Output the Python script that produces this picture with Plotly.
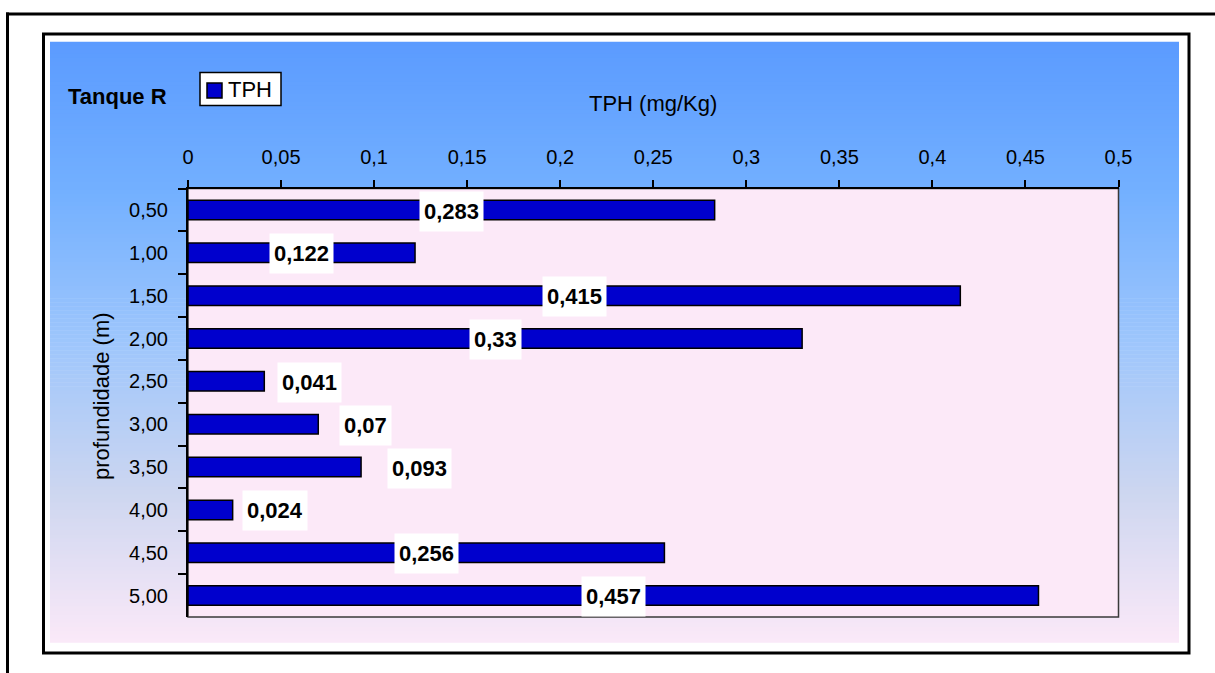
import plotly.graph_objects as go

# Depth categories (m) and TPH concentration (mg/Kg)
profundidade = ["0,50", "1,00", "1,50", "2,00", "2,50", "3,00", "3,50", "4,00", "4,50", "5,00"]
tph = [0.283, 0.122, 0.415, 0.330, 0.041, 0.070, 0.093, 0.024, 0.256, 0.457]
value_labels = ["0,283", "0,122", "0,415", "0,33", "0,041", "0,07", "0,093", "0,024", "0,256", "0,457"]

x_ticks = [0, 0.05, 0.1, 0.15, 0.2, 0.25, 0.3, 0.35, 0.4, 0.45, 0.5]
x_ticktext = ["0", "0,05", "0,1", "0,15", "0,2", "0,25", "0,3", "0,35", "0,4", "0,45", "0,5"]

# Gap (px) between bar end and label for short bars whose label sits outside
outside_gap = {"2,50": 13, "3,00": 21, "3,50": 26, "4,00": 9}

W, H = 1215, 673
FONT = "Liberation Sans, Arial, sans-serif"


def px(x):
    return x / W


def py(y):
    return 1 - y / H


# plot area in pixels
PL, PR, PT, PB = 188, 1118.5, 188.5, 617

fig = go.Figure()
fig.add_trace(go.Bar(
    y=profundidade, x=tph, orientation="h", name="TPH",
    width=0.455,
    marker=dict(color="#0000CD", line=dict(color="#000000", width=1.5)),
    showlegend=False,
))

shapes = []
# outer frame (left and top edges)
shapes.append(dict(type="line", xref="paper", yref="paper", x0=px(7.5), x1=px(7.5),
                   y0=py(12.5), y1=0, line=dict(color="black", width=3)))
shapes.append(dict(type="line", xref="paper", yref="paper", x0=px(6), x1=1,
                   y0=py(14), y1=py(14), line=dict(color="black", width=3)))
# chart box
shapes.append(dict(type="rect", xref="paper", yref="paper", x0=px(43.5), x1=px(1189),
                   y0=py(34), y1=py(653), line=dict(color="black", width=3),
                   fillcolor="white", layer="below"))

# vertical gradient background: blue at top to pink at bottom
stops = [(0.0, (91, 155, 255)), (0.25, (115, 176, 255)), (0.5, (158, 198, 252)),
         (0.75, (205, 214, 240)), (1.0, (251, 233, 248))]


def grad(t):
    for (t0, c0), (t1, c1) in zip(stops[:-1], stops[1:]):
        if t <= t1:
            f = (t - t0) / (t1 - t0)
            return "rgb(%d,%d,%d)" % tuple(round(a + (b - a) * f) for a, b in zip(c0, c1))
    return "rgb(%d,%d,%d)" % stops[-1][1]


G_TOP, G_BOT, G_L, G_R = 41.7, 642.7, 50, 1179
n = 150
step = (G_BOT - G_TOP) / n
for i in range(n):
    y0 = G_TOP + i * step
    y1 = min(y0 + step + 0.6, G_BOT)
    shapes.append(dict(type="rect", xref="paper", yref="paper", x0=px(G_L), x1=px(G_R),
                       y0=py(y0), y1=py(y1), line=dict(width=0),
                       fillcolor=grad((i + 0.5) / n), layer="below"))

# plot area fill and frame
shapes.append(dict(type="rect", xref="paper", yref="paper", x0=px(PL), x1=px(PR),
                   y0=py(PT), y1=py(PB), line=dict(color="#3a3a3a", width=1.5),
                   fillcolor="#FCE9F8", layer="below"))

# legend box
shapes.append(dict(type="rect", xref="paper", yref="paper", x0=px(200), x1=px(281),
                   y0=py(72.5), y1=py(105.5), line=dict(color="black", width=1.5),
                   fillcolor="white"))
shapes.append(dict(type="rect", xref="paper", yref="paper", x0=px(207), x1=px(222),
                   y0=py(83), y1=py(98), line=dict(color="black", width=1.5),
                   fillcolor="#0000CD"))

annotations = [
    dict(text="<b>Tanque R</b>", x=px(117), y=py(97), xref="paper", yref="paper",
         xanchor="center", yanchor="middle",
         showarrow=False, font=dict(family=FONT, size=22, color="black")),
    dict(text="TPH", x=px(226), y=py(90), xref="paper", yref="paper",
         xanchor="left", yanchor="middle",
         showarrow=False, font=dict(family=FONT, size=22, color="black")),
    dict(text="TPH (mg/Kg)", x=px(653), y=py(103), xref="paper", yref="paper",
         xanchor="center", yanchor="middle",
         showarrow=False, font=dict(family=FONT, size=22, color="black")),
    dict(text="profundidade (m)", x=px(101), y=py(396), xref="paper", yref="paper",
         xanchor="center", yanchor="middle",
         textangle=-90, showarrow=False, font=dict(family=FONT, size=22, color="black")),
]

# value labels on white boxes
for cat, v, lab in zip(profundidade, tph, value_labels):
    a = dict(text="<b>%s</b>" % lab, y=cat, xref="x", yref="y", showarrow=False,
             bgcolor="white", borderpad=4, height=31, yanchor="middle",
             font=dict(family=FONT, size=22, color="black"), yshift=-1)
    if cat in outside_gap:
        a.update(x=v, xanchor="left", xshift=outside_gap[cat])
    else:
        a.update(x=v / 2, xanchor="center")
    annotations.append(a)

fig.update_layout(
    width=W, height=H,
    margin=dict(l=0, r=0, t=0, b=0, pad=0, autoexpand=False),
    paper_bgcolor="white",
    plot_bgcolor="rgba(0,0,0,0)",
    shapes=shapes,
    annotations=annotations,
    bargap=0.5,
    showlegend=False,
    font=dict(family=FONT, size=20, color="black"),
    xaxis=dict(
        domain=[px(PL), px(PR)], range=[0, 0.5], side="top",
        tickvals=x_ticks, ticktext=x_ticktext,
        showgrid=False, zeroline=False, automargin=False,
        showline=True, linecolor="black", linewidth=2,
        ticks="outside", ticklen=7, tickwidth=1.5, tickcolor="black",
        tickfont=dict(family=FONT, size=20, color="black"),
        ticklabelstandoff=8,
    ),
    yaxis=dict(
        domain=[py(PB), py(PT)], autorange="reversed",
        type="category", tickson="boundaries",
        showgrid=False, zeroline=False, automargin=False,
        showline=True, linecolor="black", linewidth=2,
        ticks="outside", ticklen=8, tickwidth=1.5, tickcolor="black",
        tickfont=dict(family=FONT, size=20, color="black"),
        ticklabelstandoff=14,
    ),
)

fig.write_html("out.html")
